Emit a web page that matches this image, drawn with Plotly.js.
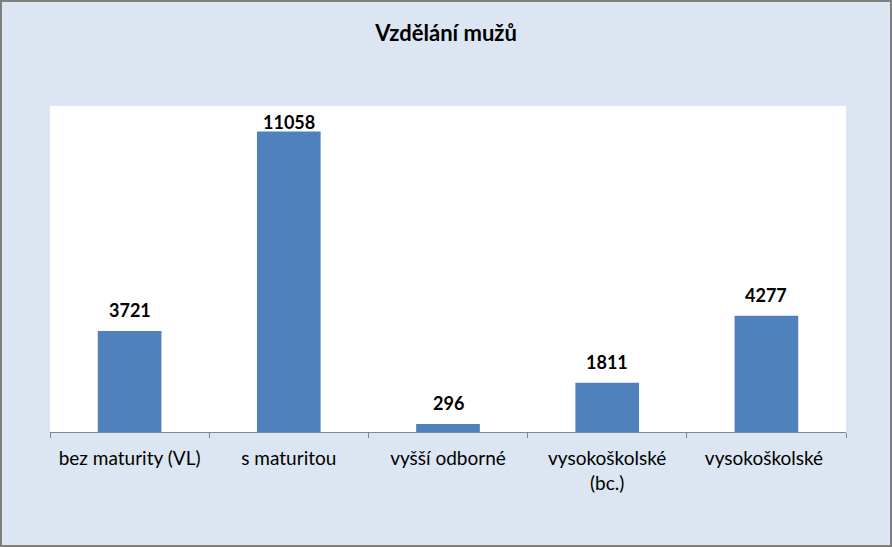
<!DOCTYPE html>
<html>
<head>
<meta charset="utf-8">
<script src="https://cdn.plot.ly/plotly-3.0.1.min.js"></script>
<style>
html,body{margin:0;padding:0;background:#fff;}
#wrap{width:892px;height:547px;box-sizing:border-box;border:2px solid #7f7f7f;background:#dce6f2;}
#chart{width:888px;height:543px;}
</style>
</head>
<body>
<div id="wrap"><div id="chart"></div></div>
<script>
const categories = ["bez maturity (VL)", "s maturitou", "vyšší odborné", "vysokoškolské<br>(bc.)", "vysokoškolské "];
const values = [3721, 11058, 296, 1811, 4277];
const chartTitle = "Vzdělání mužů";

const yMax = 12000;
const plotH = 543 - 104 - 113;

const trace = {
  type: "bar",
  x: categories,
  y: values,
  marker: {color: "#4f81bd"},
  hoverinfo: "none"
};

const annotations = categories.map((c, i) => {
  const pxToTop = plotH * (1 - values[i] / yMax);
  const shift = Math.min(21, pxToTop - 16);
  return {
    x: c, y: values[i], xref: "x", yref: "y",
    text: "<b>" + values[i] + "</b>",
    showarrow: false,
    yanchor: "middle",
    yshift: shift,
    font: {family: "Lato, 'Open Sans', sans-serif", size: 18, color: "#000000"}
  };
});

const layout = {
  width: 888,
  height: 543,
  margin: {l: 48, r: 44, t: 104, b: 113},
  paper_bgcolor: "#dce6f2",
  plot_bgcolor: "#ffffff",
  bargap: 0.6,
  showlegend: false,
  annotations: annotations,
  title: {
    text: "<b>" + chartTitle + "</b>",
    font: {family: "Lato, 'Open Sans', sans-serif", size: 22, color: "#000000"},
    x: 0.5, xanchor: "center", y: 0.942, yanchor: "middle"
  },
  xaxis: {
    type: "category",
    showline: true,
    linecolor: "#868686",
    linewidth: 1,
    ticks: "outside",
    tickson: "boundaries",
    ticklen: 5,
    tickcolor: "#868686",
    ticklabelstandoff: 9,
    showgrid: false,
    tickfont: {family: "Lato, 'Open Sans', sans-serif", size: 19, color: "#000000"},
    automargin: false
  },
  yaxis: {
    range: [0, yMax],
    visible: false,
    showgrid: false,
    zeroline: false
  }
};

Plotly.newPlot("chart", [trace], layout, {displayModeBar: false, staticPlot: true});
</script>
</body>
</html>
